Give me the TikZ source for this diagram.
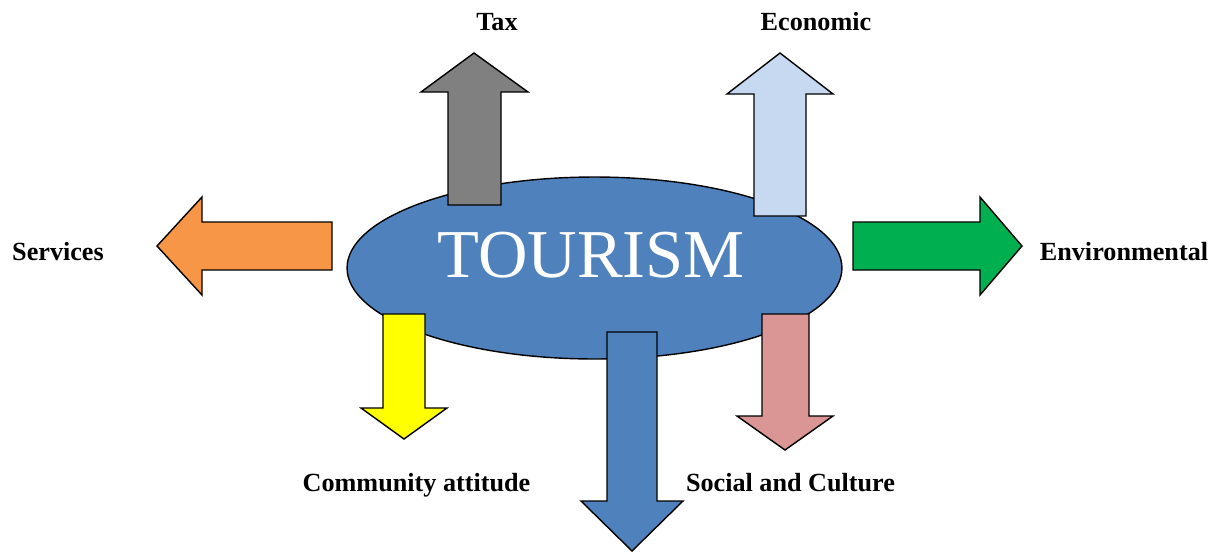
\documentclass[tikz,border=0pt]{standalone}
\usepackage{fontspec}
\setmainfont{Liberation Serif}
\usepackage{xcolor}
\usetikzlibrary{shapes.geometric}

\definecolor{taxgray}{HTML}{808080}
\definecolor{econblue}{HTML}{C6D9F1}
\definecolor{servorange}{HTML}{F79646}
\definecolor{envgreen}{HTML}{00B050}
\definecolor{commyellow}{HTML}{FFFF00}
\definecolor{socpink}{HTML}{D99694}
\definecolor{tourblue}{HTML}{4F81BD}

\begin{document}
\begin{tikzpicture}[x=0.02cm, y=-0.02cm,
        blockarrow/.style={draw=black, line width=0.8pt, line join=miter},
        lbl/.style={font=\fontsize{14.9}{17}\selectfont\bfseries, anchor=base, inner sep=0pt}]
            \useasboundingbox (0,0) rectangle (1218,552);

            \node[draw, ellipse, line width=0.8pt, fill=tourblue, inner sep=0pt,
                  minimum width=9.9cm, minimum height=3.64cm] (tourism) at (594.5,268) {};
            \node[anchor=base, inner sep=0pt, text=white, font=\fontsize{39}{44}\selectfont] (tourismtext) at (591,277) {TOURISM};

            % up
            \draw[blockarrow, fill=taxgray]  (448,205) -- (448,92) -- (421,92) -- (474,53) -- (528,92) -- (501,92) -- (501,205) -- cycle;
            \draw[blockarrow, fill=econblue]  (754,216) -- (754,94) -- (727,94) -- (780,53) -- (833,94) -- (806,94) -- (806,216) -- cycle;

            % left and right
            \draw[blockarrow, fill=servorange]  (332,222) -- (202,222) -- (202,197) -- (157,246) -- (202,295) -- (202,270) -- (332,270) -- cycle;
            \draw[blockarrow, fill=envgreen]  (853,222) -- (980,222) -- (980,197) -- (1022,246) -- (980,295) -- (980,270) -- (853,270) -- cycle;

            % down
            \draw[blockarrow, fill=commyellow]  (383,314) -- (383,408) -- (361,408) -- (404,439) -- (447,408) -- (425,408) -- (425,314) -- cycle;
            \draw[blockarrow, fill=tourblue]  (607,332) -- (607,501) -- (581,501) -- (632,551) -- (683,501) -- (657,501) -- (657,332) -- cycle;
            \draw[blockarrow, fill=socpink]  (762,314) -- (762,416) -- (737,416) -- (785,450) -- (833,416) -- (809,416) -- (809,314) -- cycle;

            \node[lbl] (tax) at (497,30) {Tax};
            \node[lbl] (economic) at (816,30) {Economic};
            \node[lbl] (services) at (58,260) {Services};
            \node[lbl] (environmental) at (1124,260) {Environmental};
            \node[lbl] (community) at (416.5,491.5) {Community attitude};
            \node[lbl] (social) at (790.5,491.5) {Social and Culture};
        \end{tikzpicture}
\end{document}
